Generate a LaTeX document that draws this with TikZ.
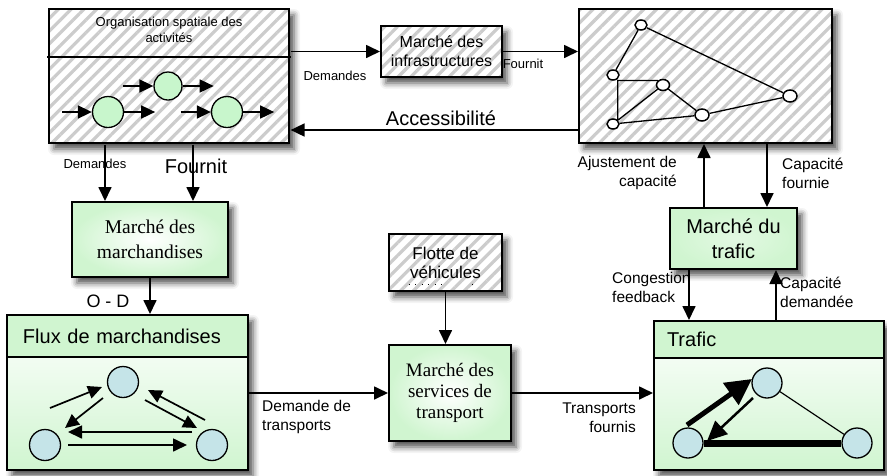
\documentclass[tikz,border=0pt]{standalone}
\usepackage{fontspec}
\setmainfont{Liberation Sans}
\newfontfamily\mktfont{Liberation Serif}
\usetikzlibrary{arrows.meta,patterns.meta,shadows.blur,shapes.geometric,positioning}

\definecolor{boxgreen}{RGB}{208,245,208}
\definecolor{nodeblue}{RGB}{197,228,232}
\definecolor{actgreen}{RGB}{200,246,204}
\newcommand{\fsz}[2]{\fontsize{#1}{#2}\selectfont}

\begin{document}
\begin{tikzpicture}[x=1pt,y=-1pt,
    every node/.style={inner sep=0pt,align=center},
    boxshadow/.style={blur shadow={shadow xshift=5pt,shadow yshift=-6pt,shadow blur radius=6pt,shadow opacity=70}},
    hatchbox/.style={boxshadow,draw,line width=2pt,preaction={fill=white},
        pattern={Lines[angle=45,distance=9pt,line width=3.2pt]},pattern color=gray!40},
    mktbox/.style={boxshadow,draw,line width=2pt,inner color=white,outer color=boxgreen},
    flowbox/.style={boxshadow,draw,line width=2pt,top color=white,bottom color=boxgreen},
    headbox/.style={draw,line width=2pt,fill=boxgreen,anchor=north,align=left,font=\fsz{20}{24}},
    arr/.style={line width=1.7pt,-{Triangle[length=14pt,width=13pt]}},
    act/.style={circle,draw,line width=1.3pt,fill=actgreen},
    place/.style={circle,draw,line width=1.3pt,fill=nodeblue,minimum size=31pt},
    hub/.style={ellipse,draw,line width=1.5pt,fill=white,minimum width=12pt,minimum height=10pt},
    lblsmall/.style={font=\fsz{13}{16}},
    lblmid/.style={font=\fsz{15.5}{19}},
    lblbig/.style={font=\fsz{20}{24}}
  ]
  \useasboundingbox (0,0) rectangle (887,475);

  % activites, infrastructures, reseau
  \node[hatchbox,minimum width=240pt,minimum height=134pt] (org) at (169,76) {};
  \draw[line width=2pt] ([shift={(0,50)}]org.north west) -- ([shift={(0,50)}]org.north east);
  \node[lblsmall] (orgtitle) at (169,30) {Organisation spatiale des\\activités};
  \node[act,minimum size=31pt] (a1) at (108,112) {};
  \node[act,minimum size=28pt] (a2) at (168,86) {};
  \node[act,minimum size=31pt] (a3) at (227,112) {};
  \foreach \c in {a1,a2,a3} {
    \draw[arr] ([shift={(-30,0)}]\c.west) -- (\c.west);
    \draw[arr] (\c.east) -- ++(31,0);
  }
  \node[hatchbox,minimum width=121pt,minimum height=51pt,font=\fsz{16}{19}] (infra) at (441.5,51.5) {Marché des\\infrastructures};
  \node[hatchbox,minimum width=253pt,minimum height=134pt] (net) at (705.5,76) {};
  \node[hub] (h1) at (641,25) {};
  \node[hub] (h2) at (613,75) {};
  \node[hub,minimum width=13pt,minimum height=11pt] (h3) at (663,85) {};
  \node[hub] (h4) at (613,124) {};
  \node[hub,minimum width=14pt,minimum height=12pt] (h5) at (702,115) {};
  \node[hub,minimum width=14pt,minimum height=12pt] (h6) at (790,96) {};
  \draw[line width=1.3pt] (h1) -- (h2) (h1) -- (h6) (h6) -- (h5) (h5) -- (h3)
    (h5) -- (h4) (h4) -- (h3) (h3.north west) -| (h4.north east);

  \draw[arr] (org.east |- infra.west) -- (infra.west);
  \draw[arr] (infra.east) -- (infra.east -| net.west);
  \coordinate (accstart) at ([shift={(0,54)}]net.west);
  \draw[arr] (accstart) -- (accstart -| org.east);
  \node[lblsmall] (dem2) at (335,76) {Demandes};
  \node[lblsmall] (four2) at (523,64) {Fournit};
  \node[lblbig] (acc) at (441,118) {Accessibilité};

  % marchandises
  \node[mktbox,minimum width=156pt,minimum height=75pt,font=\mktfont\fsz{19.5}{25}] (mmarch) at (150,239.5) {Marché des\\marchandises};
  \coordinate (dem1start) at ([shift={(-64,0)}]org.south);
  \coordinate (four1start) at ([shift={(24,0)}]org.south);
  \draw[arr] (dem1start) -- (dem1start |- mmarch.north);
  \draw[arr] (four1start) -- (four1start |- mmarch.north);
  \node[lblsmall] (dem1) at (95,164) {Demandes};
  \node[lblbig] (four1) at (196,166) {Fournit};

  \node[flowbox,minimum width=241pt,minimum height=155pt] (flux) at (127.5,392.5) {};
  \node[headbox,minimum width=241pt,minimum height=42pt,text width=209pt] (fluxhead) at (flux.north) {Flux de marchandises};
  \draw[arr] (mmarch.south) -- (mmarch.south |- flux.north);
  \node[font=\fsz{18}{22}] (od) at (108,301) {O - D};
  \node[place] (f1) at (123,382) {};
  \node[place] (f2) at (45,445) {};
  \node[place] (f3) at (212,445) {};
  \draw[arr] ([shift={(5,-37)}]f2.center) -- ([shift={(-21,5)}]f1.center);
  \draw[arr] ([shift={(-20,16)}]f1.center) -- ([shift={(20,-17)}]f2.center);
  \draw[arr] ([shift={(-7,-25)}]f3.center) -- ([shift={(25,8)}]f1.center);
  \draw[arr] ([shift={(22,18)}]f1.center) -- ([shift={(-15,-17)}]f3.center);
  \draw[arr] ([shift={(-20,-13)}]f3.center) -- ([shift={(23,-13)}]f2.center);
  \draw[arr] ([shift={(23,0)}]f2.center) -- ([shift={(-25,0)}]f3.center);

  % services de transport
  \node[hatchbox,minimum width=113pt,minimum height=57pt,font=\fsz{17}{19}] (flotte) at (445.5,262.5) {Flotte de\\véhicules};
  \draw[line width=1pt,dash pattern=on 1pt off 5.5pt] ([shift={(-37,22)}]flotte.center) -- ++(36,0);
  \fill ([shift={(27,22)}]flotte.center) circle (0.6pt);
  \node[mktbox,minimum width=122pt,minimum height=96pt,font=\mktfont\fsz{19}{21}] (svc) at (450,393) {Marché des\\services de\\transport};
  \draw[arr] (flotte.south) -- (flotte.south |- svc.north);
  \draw[arr] (svc.west -| flux.east) -- (svc.west);
  \node[lblmid,align=left,anchor=west] (demt) at (262,417) {Demande de\\transports};

  % trafic
  \node[flowbox,minimum width=230pt,minimum height=149pt] (traf) at (769,395.5) {};
  \node[headbox,minimum width=230pt,minimum height=37pt,text width=204pt] (trafhead) at (traf.north) {Trafic};
  \draw[arr] (svc.east) -- (svc.east -| traf.west);
  \node[lblmid,align=right,anchor=east] (trf) at (636,418) {Transports\\fournis};
  \node[place,minimum size=30pt] (t1) at (767,383) {};
  \node[place,minimum size=30pt] (t2) at (688,443) {};
  \node[place,minimum size=30pt] (t3) at (857,443) {};
  \draw[line width=1.2pt] (t1) -- (t3);
  \draw[line width=7pt] (t2) -- (t3);
  \draw[line width=5pt,-{Triangle[length=26pt,width=26pt]}] ([shift={(-1,-18)}]t2.center) -- ([shift={(-15,-4)}]t1.center);
  \draw[line width=2.5pt,-{Triangle[length=20pt,width=18pt]}] ([shift={(-14,15)}]t1.center) -- ([shift={(19,-2)}]t2.center);

  \node[mktbox,inner color=boxgreen!60,minimum width=127pt,minimum height=61pt,font=\fsz{20}{25}] (mtraf) at (733.5,238.5) {Marché du\\trafic};
  \coordinate (ajstart) at ([shift={(-29.5,0)}]mtraf.north);
  \coordinate (cfstart) at ([shift={(61.5,0)}]net.south);
  \draw[arr] (ajstart) -- (ajstart |- net.south);
  \draw[arr] (cfstart) -- (cfstart |- mtraf.north);
  \node[lblmid,align=right,anchor=east] (ajust) at (677,173) {Ajustement de\\capacité};
  \node[lblmid,align=left,anchor=west] (capf) at (782,173) {Capacité\\fournie};
  \coordinate (congstart) at ([shift={(-44.5,0)}]mtraf.south);
  \coordinate (capdstart) at ([shift={(42.5,0)}]mtraf.south);
  \draw[arr] (congstart) -- (congstart |- traf.north);
  \draw[arr] (capdstart |- traf.north) -- (capdstart);
  \node[lblmid,align=left,anchor=west] (cong) at (612,287) {Congestion\\feedback};
  \node[lblmid,align=left,anchor=west] (capd) at (780,292) {Capacité\\demandée};
\end{tikzpicture}
\end{document}
